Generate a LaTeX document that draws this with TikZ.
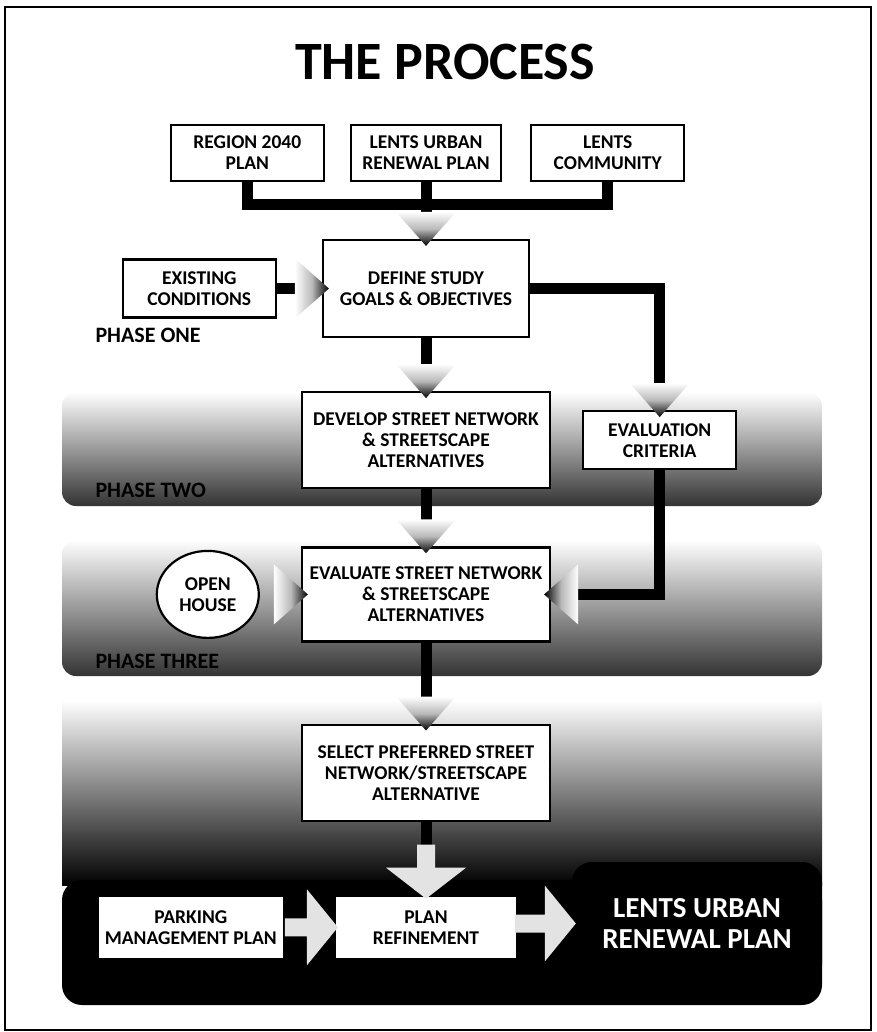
\documentclass[tikz,border=0pt]{standalone}
\usepackage{fontspec}
\setmainfont{Carlito}
\usetikzlibrary{arrows.meta, positioning, calc, shapes.geometric}

% heads of the connectors (tip sits just inside the box)
\newcommand\fandown[1]{\shade[fan] ($(#1)+(-30,27)$) -- ($(#1)+(30,27)$) -- ($(#1)+(0,-7)$) -- cycle;}
\newcommand\fanright[1]{\shade[fan, shading angle=90] ($(#1)+(-27,30)$) -- ($(#1)+(-27,-30)$) -- ($(#1)+(7,0)$) -- cycle;}
\newcommand\fanleft[1]{\shade[fan, shading angle=-90] ($(#1)+(27,30)$) -- ($(#1)+(27,-30)$) -- ($(#1)+(-7,0)$) -- cycle;}
\newcommand\paledown[2]{\fill[pale] ($(#1)+(-9,#2)$) -- ($(#1)+(9,#2)$) -- ($(#1)+(9,27)$) -- ($(#1)+(40,27)$) -- ($(#1)+(0,-4)$) -- ($(#1)+(-40,27)$) -- ($(#1)+(-9,27)$) -- cycle;}
\newcommand\paleright[2]{\fill[pale] ($(#1)+(-#2,9)$) -- ($(#1)+(-27,9)$) -- ($(#1)+(-27,38)$) -- ($(#1)+(4,0)$) -- ($(#1)+(-27,-38)$) -- ($(#1)+(-27,-9)$) -- ($(#1)+(-#2,-9)$) -- cycle;}

\begin{document}
\begin{tikzpicture}[
  x=1pt, y=1pt,
  font=\bfseries\fontsize{19.5}{21}\selectfont,
  box/.style={draw, line width=2.2pt, fill=white, align=center, inner sep=1pt},
  bar/.style={line width=11pt, black},
  fan/.style={top color=white, bottom color=black, middle color=gray!55},
  pale/.style={fill=gray!22},
  band/.style={top color=white, bottom color=black!80},
  phase/.style={anchor=west, font=\bfseries\fontsize{22}{22}\selectfont},
  title/.style={font=\bfseries\fontsize{54}{54}\selectfont},
  final/.style={fill=black, text=white, rounded corners=20pt, align=center,
    minimum width=250pt, minimum height=123pt, font=\bfseries\fontsize{29}{31}\selectfont}
]
\useasboundingbox (0,0) rectangle (876,-1032);
\draw[line width=2.5pt] (5,-7) rectangle (871,-1030);

% phase bands
\shade[band, rounded corners=14pt] (62,-392) rectangle (822,-506);
\shade[band, rounded corners=14pt] (62,-540) rectangle (822,-676);
\shade[top color=white, bottom color=black] (62,-700) rectangle (822,-885);
\fill[black, rounded corners=20pt] (62,-880) rectangle (822,-1005);

\node[title] (title) at (445,-62) {THE PROCESS};

\node[box, minimum width=206pt, minimum height=97pt] (define) at (426,-288.5) {DEFINE STUDY\\GOALS \& OBJECTIVES};
\node[box, minimum width=150pt, minimum height=56pt, above=57pt of define] (urp) {LENTS URBAN\\RENEWAL PLAN};
\node[box, minimum width=153pt, minimum height=56pt, left=25pt of urp] (region) {REGION 2040\\PLAN};
\node[box, minimum width=153pt, minimum height=56pt, right=28pt of urp] (comm) {LENTS\\COMMUNITY};
\node[box, minimum width=153pt, minimum height=58pt, left=45pt of define] (existing) {EXISTING\\CONDITIONS};
\node[box, minimum width=248pt, minimum height=96pt, below=53pt of define] (develop) {DEVELOP STREET NETWORK\\\& STREETSCAPE\\ALTERNATIVES};
\node[box, minimum width=153pt, minimum height=58pt, right=31pt of develop] (criteria) {EVALUATION\\CRITERIA};
\node[box, minimum width=248pt, minimum height=94pt, below=57pt of develop] (evaluate) {EVALUATE STREET NETWORK\\\& STREETSCAPE\\ALTERNATIVES};
\node[box, ellipse, minimum width=102pt, minimum height=87pt, left=41pt of evaluate] (openhouse) {OPEN\\HOUSE};
\node[box, minimum width=248pt, minimum height=96pt, below=81pt of evaluate] (select) {SELECT PREFERRED STREET\\NETWORK/STREETSCAPE\\ALTERNATIVE};
\node[box, minimum width=182pt, minimum height=63pt, below=73pt of select] (refine) {PLAN\\REFINEMENT};
\node[box, minimum width=186pt, minimum height=63pt, left=49pt of refine] (parking) {PARKING\\MANAGEMENT PLAN};
\node[final] (lents) at (697,-923.5) {LENTS URBAN\\RENEWAL PLAN};

\node[phase] (one) at (92,-335) {PHASE ONE};
\node[phase] (two) at (92,-490) {PHASE TWO};
\node[phase] (three) at (92,-661) {PHASE THREE};

% connectors
\coordinate (merge) at (425,-205);
\draw[bar] (region.south) |- (merge) -| (comm.south);
\draw[bar] (urp.south) -- (define.north);
\draw[bar] (existing.east) -- (define.west);
\draw[bar] (define.east) -| (criteria.north);
\draw[bar] (define.south) -- (develop.north);
\draw[bar] (develop.south) -- (evaluate.north);
\draw[bar] (criteria.south) |- (evaluate.east);
\draw[bar] (evaluate.south) -- (select.north);
\draw[bar] (select.south) -- (refine.north);

\fandown{define.north}
\fanright{define.west}
\fandown{criteria.north}
\fandown{develop.north}
\fandown{evaluate.north}
\fanright{evaluate.west}
\fanleft{evaluate.east}
\fandown{select.north}
\paledown{refine.north}{50}
\paleright{refine.west}{49}
\paleright{lents.west}{57}
\end{tikzpicture}
\end{document}
